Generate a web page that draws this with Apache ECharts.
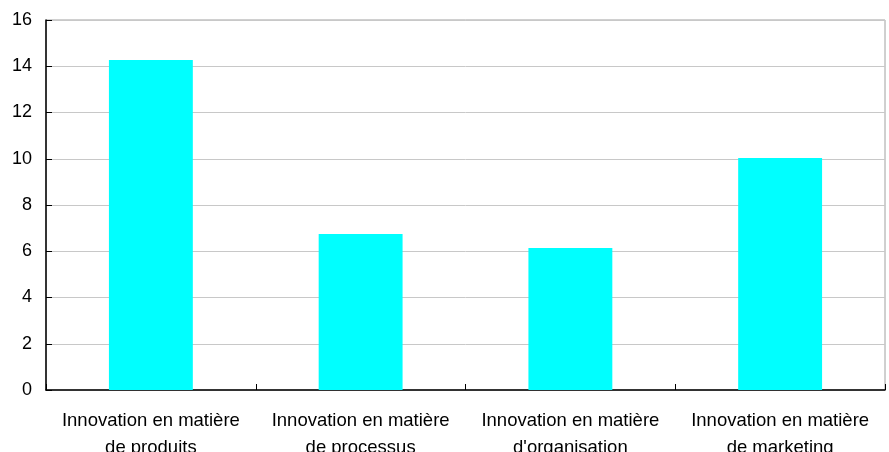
<!DOCTYPE html>
<html>
<head>
<meta charset="utf-8">
<script src="https://cdn.jsdelivr.net/npm/echarts@6/dist/echarts.min.js"></script>
<style>
  html, body { margin: 0; padding: 0; background: #ffffff; }
  #chart { width: 889px; height: 452px; }
</style>
</head>
<body>
<div id="chart"></div>
<script>
// Types d'innovation (catégories) et valeurs
const categories = [
  "Innovation en matière\nde produits",
  "Innovation en matière\nde processus",
  "Innovation en matière\nd'organisation",
  "Innovation en matière\nde marketing"
];
const values = [14.27, 6.75, 6.14, 10.03];
const yTicks = { min: 0, max: 16, interval: 2 };

const chart = echarts.init(document.getElementById('chart'));
chart.setOption({
  animation: false,
  backgroundColor: '#ffffff',
  grid: {
    left: 46, right: 4, top: 20, bottom: 62,
    outerBoundsMode: 'none', containLabel: false,
    show: true, borderColor: '#a0a0a0', borderWidth: 1
  },
  xAxis: {
    type: 'category',
    data: categories,
    axisLine: { lineStyle: { color: '#000000', width: 1.5 } },
    axisTick: { show: true, inside: true, length: 6, lineStyle: { color: '#000000' } },
    axisLabel: {
      color: '#000000', fontFamily: 'Liberation Sans, Arial, sans-serif',
      fontSize: 18.5, lineHeight: 26.5, margin: 18, interval: 0
    },
    splitLine: { show: false }
  },
  yAxis: {
    type: 'value',
    min: yTicks.min, max: yTicks.max, interval: yTicks.interval,
    axisLine: { show: true, lineStyle: { color: '#000000', width: 1.5 } },
    axisTick: { show: true, inside: true, length: 6, lineStyle: { color: '#000000' } },
    axisLabel: {
      color: '#000000', fontFamily: 'Liberation Sans, Arial, sans-serif',
      fontSize: 18, margin: 14
    },
    splitLine: { show: true, lineStyle: { color: '#c8c8c8', width: 1 } }
  },
  series: [{
    type: 'bar',
    data: values,
    barWidth: '40%',
    itemStyle: { color: '#00ffff' }
  }]
});
</script>
</body>
</html>
